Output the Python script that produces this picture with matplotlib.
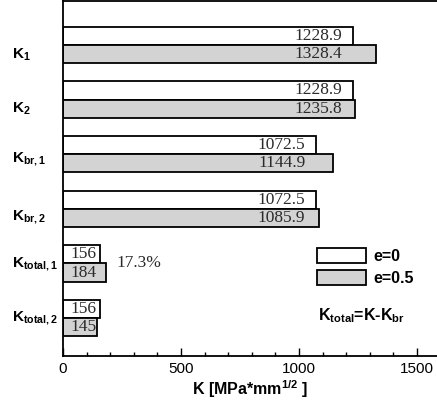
import numpy as np
import matplotlib
matplotlib.use("Agg")
import matplotlib.pyplot as plt
from matplotlib.patches import Patch

plt.rcParams['font.family'] = ['Liberation Sans', 'DejaVu Sans']
plt.rcParams['mathtext.fontset'] = 'custom'
plt.rcParams['mathtext.rm'] = 'Liberation Sans'
plt.rcParams['mathtext.bf'] = 'Liberation Sans:bold'

# data
labels = ['K$_{\\mathbf{1}}$', 'K$_{\\mathbf{2}}$', 'K$_{\\mathbf{br,1}}$',
          'K$_{\\mathbf{br,2}}$', 'K$_{\\mathbf{total,1}}$', 'K$_{\\mathbf{total,2}}$']
e0 = [1228.9, 1228.9, 1072.5, 1072.5, 156, 156]
e05 = [1328.4, 1235.8, 1144.9, 1085.9, 184, 145]
e0_txt = ['1228.9', '1228.9', '1072.5', '1072.5', '156', '156']
e05_txt = ['1328.4', '1235.8', '1144.9', '1085.9', '184', '145']
note_pct = '17.3%'

fig = plt.figure(figsize=(4.37, 4.05), dpi=100)
ax = fig.add_axes([0.144, 0.121, 0.856, 0.8765])

y = np.arange(len(labels))
h = 0.335
ax.barh(y - h / 2, e0, height=h, color='white', edgecolor='black', linewidth=1.3, label='e=0')
ax.barh(y + h / 2, e05, height=h, color='#d3d3d3', edgecolor='black', linewidth=1.3, label='e=0.5')

# value labels
for i in range(len(labels)):
    if e0[i] > 500:
        xr = e0[i] - 45
        ax.text(xr, y[i] - h / 2, e0_txt[i], ha='right', va='center', family='Liberation Serif',
                fontsize=12.5, color='#2a2a2a')
        ax.text(xr, y[i] + h / 2, e05_txt[i], ha='right', va='center', family='Liberation Serif',
                fontsize=12.5, color='#2a2a2a')
    else:
        ax.text(34, y[i] - h / 2, e0_txt[i], ha='left', va='center', family='Liberation Serif',
                fontsize=12.5, color='#2a2a2a')
        ax.text(34, y[i] + h / 2, e05_txt[i], ha='left', va='center', family='Liberation Serif',
                fontsize=12.5, color='#2a2a2a')

ax.text(225, 4, note_pct, ha='left', va='center', family='Liberation Serif', fontsize=12.5, color='#2a2a2a')

ax.set_ylim(5.696, -0.806)
ax.set_xlim(0, 1585)

lab_off = [0.14, 0.12, 0.04, 0.1, -0.05, -0.05]
ax.set_yticks(y + np.array(lab_off))
ax.set_yticklabels(labels, fontsize=11, fontweight='bold')
for t in ax.get_yticklabels():
    t.set_ha('left')
ax.tick_params(axis='y', length=0, pad=37)

ax.set_xticks([0, 500, 1000, 1500])
ax.set_xticks(np.arange(0, 1600, 100), minor=True)
ax.tick_params(axis='x', which='major', direction='in', length=6, width=1, labelsize=11, pad=4)
ax.tick_params(axis='x', which='minor', direction='in', length=3, width=1)
ax.set_xlabel('K [MPa*mm$^{\\mathbf{1/2}}$ ]', fontsize=11.5, fontweight='bold', labelpad=2)

for s in ['left', 'bottom', 'top']:
    ax.spines[s].set_linewidth(1.3)
ax.spines['right'].set_visible(False)

handles = [Patch(facecolor='white', edgecolor='black', linewidth=1.3),
           Patch(facecolor='#d3d3d3', edgecolor='black', linewidth=1.3)]
ax.legend(handles, ['e=0', 'e=0.5'], loc='upper left', bbox_to_anchor=(0.679, 0.304),
          frameon=False, borderpad=0, borderaxespad=0, handlelength=3.1, handleheight=1.1,
          labelspacing=0.37, handletextpad=0.44, prop={'weight': 'bold', 'size': 11.5})

ax.text(0.681, 0.113, 'K$_{\\mathbf{total}}$=K-K$_{\\mathbf{br}}$', transform=ax.transAxes,
        ha='left', va='center', fontsize=11.5, fontweight='bold')

fig.savefig('out.png', dpi=100)
